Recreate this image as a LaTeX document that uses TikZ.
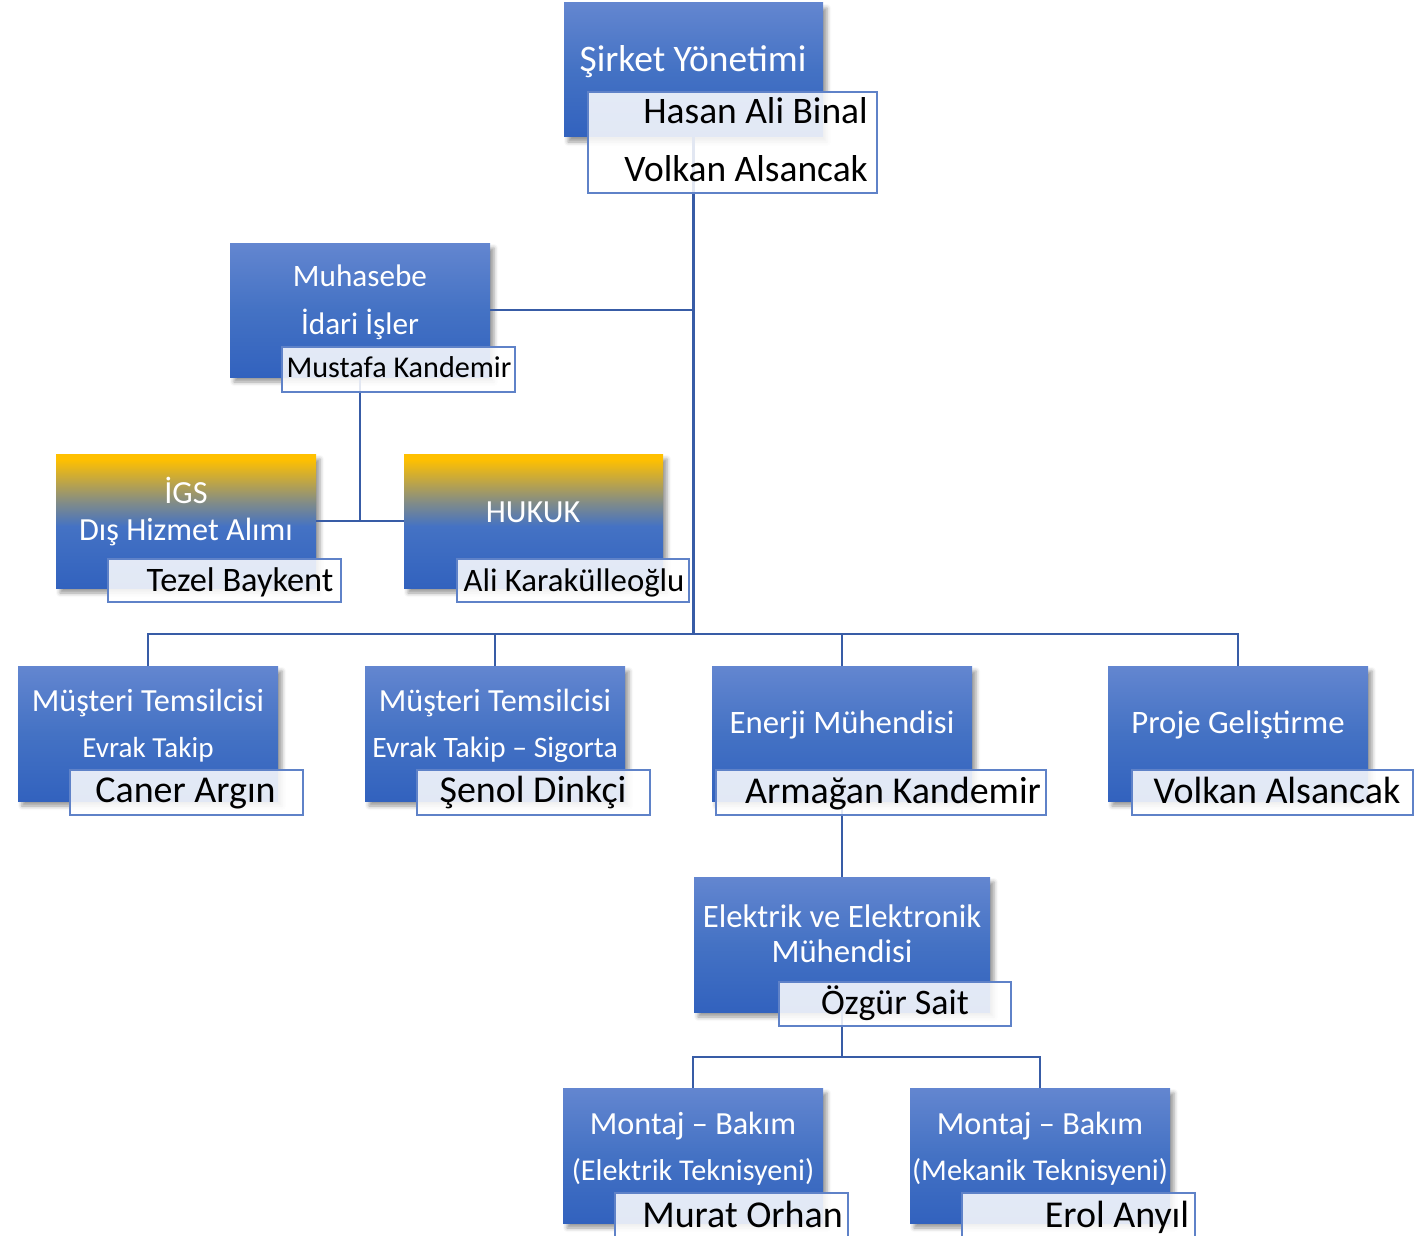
\documentclass[tikz,border=0pt]{standalone}
\usepackage{fontspec}
\setmainfont{Carlito}
\usetikzlibrary{shadows.blur}
\definecolor{bT}{RGB}{99,134,208}
\definecolor{bM}{RGB}{68,114,196}
\definecolor{bD}{RGB}{50,98,190}
\definecolor{yT}{RGB}{255,192,0}
\definecolor{gM}{RGB}{130,140,135}
\definecolor{lineC}{RGB}{56,92,166}
\definecolor{lblC}{RGB}{95,130,200}
\pgfdeclareverticalshading{ygrad}{100bp}{color(0bp)=(bD); color(25bp)=(bD); color(48bp)=(bM); color(57bp)=(gM); color(73bp)=(yT); color(100bp)=(yT)}
\newcommand{\myfs}[1]{\pgfmathsetmacro\myfsz{#1*1.04}\fontsize{\myfsz pt}{\myfsz pt}\selectfont}
\begin{document}
\begin{tikzpicture}[x=1pt,y=-1pt,
  shadowed/.style={blur shadow={shadow xshift=4pt, shadow yshift=-5pt, shadow blur radius=4pt, shadow opacity=40}},
  bbox/.style={rectangle, inner sep=0pt, draw=none, top color=bT, bottom color=bD, middle color=bM, shadowed},
  ybox/.style={rectangle, inner sep=0pt, draw=none, shading=ygrad, shadowed},
  lbox/.style={rectangle, inner sep=0pt, draw=lblC, line width=1.2pt, fill=white, fill opacity=0.86},
  conn/.style={draw=lineC, line width=2.8pt},
  fs/.style={font=\myfs{#1}},
  wt/.style={inner sep=0pt, anchor=base, text=white},
  bt/.style={inner sep=0pt, anchor=base, text=black}]
\useasboundingbox (0,0) rectangle (1414,1236);
% blue boxes
\node[bbox, minimum width=259pt, minimum height=134pt] (top) at (693.5,70) {};
\node[bbox, minimum width=260pt, minimum height=134pt] (muh) at (360,310) {};
\node[ybox, minimum width=260pt, minimum height=134pt] (igs) at (186,521) {};
\node[ybox, minimum width=259pt, minimum height=134pt] (huk) at (533.5,521) {};
\node[bbox, minimum width=260pt, minimum height=135pt] (m1) at (148,733.5) {};
\node[bbox, minimum width=260pt, minimum height=135pt] (m2) at (495,733.5) {};
\node[bbox, minimum width=260pt, minimum height=135pt] (en) at (842,733.5) {};
\node[bbox, minimum width=260pt, minimum height=135pt] (pr) at (1238,733.5) {};
\node[bbox, minimum width=296pt, minimum height=135pt] (el) at (842,944.5) {};
\node[bbox, minimum width=260pt, minimum height=135pt] (mo1) at (693,1155.5) {};
\node[bbox, minimum width=260pt, minimum height=135pt] (mo2) at (1040,1155.5) {};
% connectors
\coordinate (bus) at (693.5,634);
\coordinate (bus2) at (842,1057);
\draw[conn] (top.south) -- (bus);
\draw[conn] (muh.east) -- (muh.east -| top.south);
\draw[conn] (muh.south) -- (muh.south |- igs.east);
\draw[conn] (igs.east) -- (huk.west);
\draw[conn] (m1.north) -- (m1.north |- bus) -- (pr.north |- bus) -- (pr.north);
\draw[conn] (m2.north) -- (m2.north |- bus);
\draw[conn] (en.north) -- (en.north |- bus);
\draw[conn] (en.south) -- (el.north);
\draw[conn] (el.south) -- (bus2);
\draw[conn] (mo1.north) -- (mo1.north |- bus2) -- (mo2.north |- bus2) -- (mo2.north);
% label boxes
\node[lbox, minimum width=289pt, minimum height=101pt] (topL) at (732.5,142.5) {};
\node[lbox, minimum width=233pt, minimum height=45pt] (muhL) at (398.5,369.5) {};
\node[lbox, minimum width=233pt, minimum height=43pt] (igsL) at (224.5,580.5) {};
\node[lbox, minimum width=232pt, minimum height=43pt] (hukL) at (573,580.5) {};
\node[lbox, minimum width=233pt, minimum height=45pt] (m1L) at (186.5,792.5) {};
\node[lbox, minimum width=233pt, minimum height=45pt] (m2L) at (533.5,792.5) {};
\node[lbox, minimum width=330pt, minimum height=45pt] (enL) at (881,792.5) {};
\node[lbox, minimum width=281pt, minimum height=45pt] (prL) at (1272.5,792.5) {};
\node[lbox, minimum width=232pt, minimum height=44pt] (elL) at (895,1004) {};
\node[lbox, minimum width=233pt, minimum height=45pt] (mo1L) at (731.5,1215.5) {};
\node[lbox, minimum width=233pt, minimum height=45pt] (mo2L) at (1078.5,1215.5) {};
% white texts
\node[wt, fs=36] (t1) at (693,72) {Şirket Yönetimi};
\node[wt, fs=30] (t2) at (360,286) {Muhasebe};
\node[wt, fs=30] (t3) at (360,334) {İdari İşler};
\node[wt, fs=31] (t4) at (186,503) {İGS};
\node[wt, fs=31] (t5) at (186,540) {Dış Hizmet Alımı};
\node[wt, fs=31] (t6) at (533,522) {HUKUK};
\node[wt, fs=31] (t7) at (148,711) {Müşteri Temsilcisi};
\node[wt, fs=28] (t8) at (148,757) {Evrak Takip};
\node[wt, fs=31] (t9) at (495,711) {Müşteri Temsilcisi};
\node[wt, fs=28.5] (t10) at (495,757) {Evrak Takip – Sigorta};
\node[wt, fs=31.5] (t11) at (842,733) {Enerji Mühendisi};
\node[wt, fs=31.5] (t12) at (1238,733) {Proje Geliştirme};
\node[wt, fs=31.5] (t13) at (842,927) {Elektrik ve Elektronik};
\node[wt, fs=31.5] (t14) at (842,962) {Mühendisi};
\node[wt, fs=31] (t15) at (693,1134) {Montaj – Bakım};
\node[wt, fs=29] (t16) at (693,1180) {(Elektrik Teknisyeni)};
\node[wt, fs=31] (t17) at (1040,1134) {Montaj – Bakım};
\node[wt, fs=29] (t18) at (1040,1180) {(Mekanik Teknisyeni)};
% black texts
\node[bt, fs=36, anchor=base east] (n1) at (868,124) {Hasan Ali Binal};
\node[bt, fs=36, anchor=base east] (n2) at (868,182) {Volkan Alsancak};
\node[bt, fs=29] (n3) at (399,377) {Mustafa Kandemir};
\node[bt, fs=33] (n4) at (240,591) {Tezel Baykent};
\node[bt, fs=31.5] (n5) at (574,591) {Ali Karakülleoğlu};
\node[bt, fs=36.5] (n6) at (185.5,802) {Caner Argın};
\node[bt, fs=36.5] (n7) at (533,802) {Şenol Dinkçi};
\node[bt, fs=36.5] (n8) at (893,803) {Armağan Kandemir};
\node[bt, fs=36.5] (n9) at (1277,803) {Volkan Alsancak};
\node[bt, fs=34.5] (n10) at (895,1014) {Özgür Sait};
\node[bt, fs=36.5] (n11) at (742.5,1227) {Murat Orhan};
\node[bt, fs=36.5] (n12) at (1117,1227) {Erol Anyıl};
\end{tikzpicture}
\end{document}
